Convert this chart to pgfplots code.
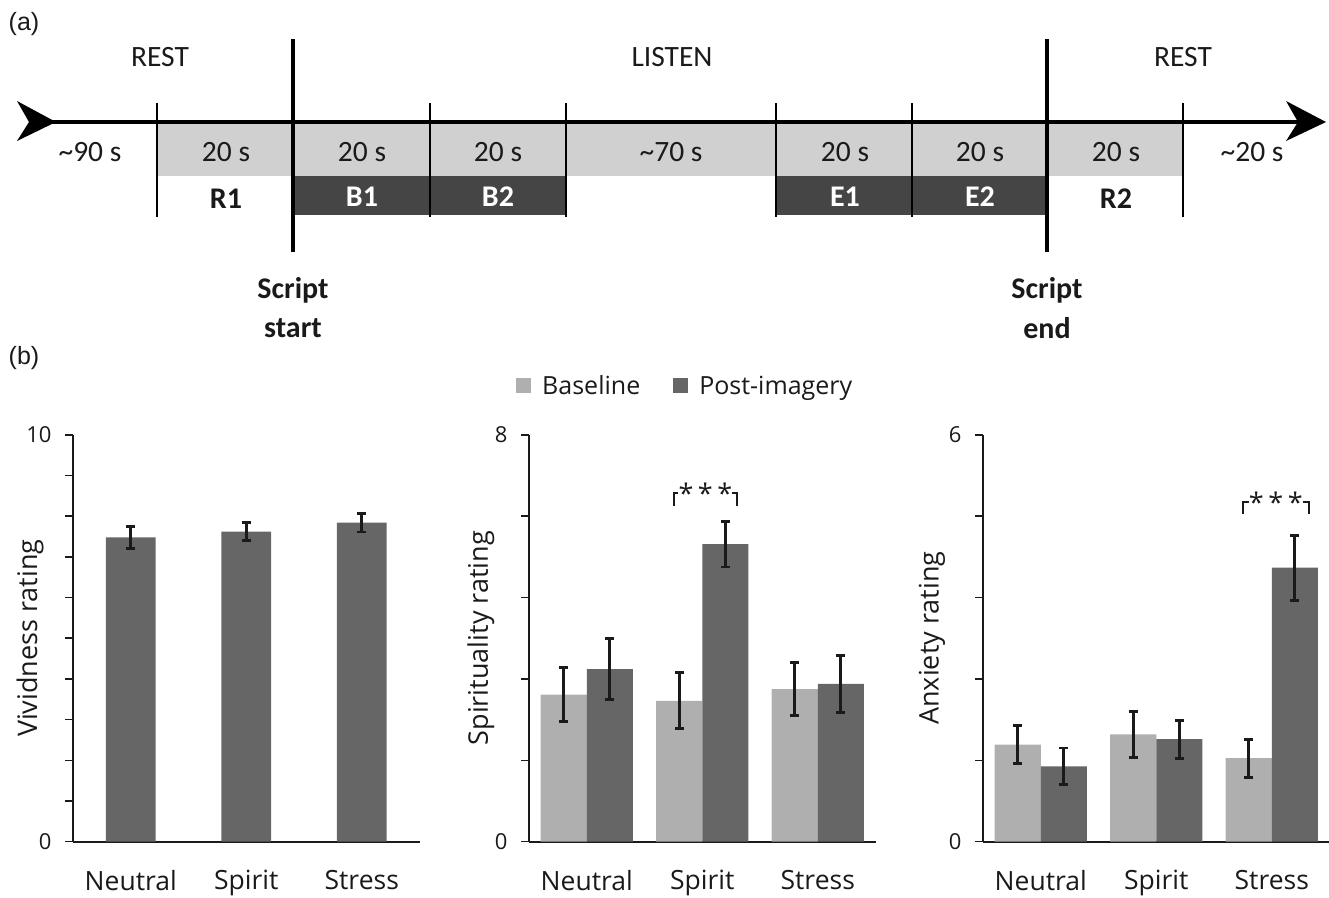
\documentclass[border=0pt]{standalone}
\usepackage{pgfplots}
\usepackage{pgfplotstable}
\pgfplotsset{compat=1.18}
\usepackage{fontspec}
\setmainfont{Open Sans}
\newfontfamily\calfont{Carlito}
\newfontfamily\arialfont{Liberation Sans}
\definecolor{lightbar}{HTML}{AFAFAF}
\definecolor{darkbar}{HTML}{666666}
\definecolor{band}{HTML}{D0D0D0}
\definecolor{boxc}{HTML}{454545}
\definecolor{ink}{HTML}{1A1A1A}

\tikzset{
  signode/.style={fill=white, inner sep=0pt, minimum width=54pt, minimum height=16pt,
    font=\fontsize{27}{30}\selectfont, text=ink},
}

\pgfplotsset{
  ratingaxis/.style={
    scale only axis, width=346.5pt, height=406.8pt,
    xmin=-0.5, xmax=2.5, ymin=0,
    axis x line=bottom, axis y line=left,
    axis line style={-, line width=1.8pt, ink},
    xtick={0,1,2}, xticklabels={Neutral,Spirit,Stress},
    x tick style={draw=none},
    y tick style={line width=1.5pt, ink},
    tick align=outside, major tick length=8pt,
    xticklabel style={font=\fontsize{26.5}{30}\selectfont, yshift=-17pt, text=ink},
    yticklabel style={font=\fontsize{22}{26}\selectfont, xshift=-10pt, text=ink},
    ylabel style={font=\fontsize{27}{32}\selectfont, anchor=center, text=ink},
    clip=false,
    legend image code/.code={\fill[##1] (0pt,-7.5pt) rectangle (15pt,7.5pt); \path (24pt,0pt);},
  },
  errplot/.style={
    forget plot, mark=none, draw=none,
    error bars/.cd, y dir=both, y explicit,
    error bar style={draw=ink, line width=2.8pt, solid},
    error mark=-,
    error mark options={rotate=90, draw=ink, line width=2.8pt, mark size=4.5pt, solid},
    /pgfplots/.cd
  },
}

\pgfplotstableread{
x y e
0 7.48 0.27
1 7.62 0.22
2 7.84 0.23
}\vivid
\pgfplotstableread{
x y e
0 2.89 0.53
1 2.77 0.55
2 3.00 0.52
}\spirbase
\pgfplotstableread{
x y e
0 3.39 0.60
1 5.85 0.45
2 3.10 0.56
}\spirpost
\pgfplotstableread{
x y e
0 1.43 0.28
1 1.58 0.34
2 1.23 0.28
}\anxbase
\pgfplotstableread{
x y e
0 1.11 0.27
1 1.51 0.28
2 4.04 0.48
}\anxpost

\begin{document}
\begin{tikzpicture}
\useasboundingbox (0pt,0pt) rectangle (1329pt,-897pt);

% ---------------- panel (a): timeline ----------------
\begin{axis}[at={(0pt,-340pt)}, anchor=south west, scale only axis,
  width=1329pt, height=340pt, xmin=0, xmax=1329, ymin=-340, ymax=0,
  hide axis, clip=false]
  \fill[band] (axis cs:157,-122) rectangle (axis cs:1183,-176);
  \fill[boxc] (axis cs:293,-176) rectangle (axis cs:566,-215);
  \fill[boxc] (axis cs:776,-176) rectangle (axis cs:1047,-215);
  \draw[line width=4pt] (axis cs:45,-122) -- (axis cs:1300,-122);
  \fill (axis cs:17,-101) -- (axis cs:56,-122) -- (axis cs:17,-141) -- (axis cs:29,-122) -- cycle;
  \fill (axis cs:1286,-101) -- (axis cs:1326,-122) -- (axis cs:1286,-141) -- (axis cs:1298,-122) -- cycle;
  \pgfplotsinvokeforeach{157,430,566,776,912,1183}{
    \draw[line width=2.5pt] (axis cs:#1,-103) -- (axis cs:#1,-217);
  }
  \draw[line width=4pt] (axis cs:293,-39) -- (axis cs:293,-252);
  \draw[line width=4pt] (axis cs:1047,-39) -- (axis cs:1047,-252);
  % labels
  \begin{scope}[every node/.style={font=\calfont\fontsize{29.5}{34}\selectfont, text=ink}]
    \node at (axis cs:160,-57) {REST};
    \node at (axis cs:672,-57) {LISTEN};
    \node at (axis cs:1183,-57) {REST};
    \node at (axis cs:90,-152) {\textasciitilde 90 s};
    \node at (axis cs:226,-152) {20 s};
    \node at (axis cs:362,-152) {20 s};
    \node at (axis cs:498,-152) {20 s};
    \node at (axis cs:671,-152) {\textasciitilde 70 s};
    \node at (axis cs:845,-152) {20 s};
    \node at (axis cs:980,-152) {20 s};
    \node at (axis cs:1116,-152) {20 s};
    \node at (axis cs:1252,-152) {\textasciitilde 20 s};
  \end{scope}
  \begin{scope}[every node/.style={font=\calfont\bfseries\fontsize{30}{35}\selectfont}]
    \node[text=ink] at (axis cs:226,-199) {R1};
    \node[text=white] at (axis cs:362,-197) {B1};
    \node[text=white] at (axis cs:498,-197) {B2};
    \node[text=white] at (axis cs:845,-197) {E1};
    \node[text=white] at (axis cs:980,-197) {E2};
    \node[text=ink] at (axis cs:1116,-199) {R2};
    \node[text=ink] at (axis cs:293,-290) {Script};
    \node[text=ink] at (axis cs:293,-328) {start};
    \node[text=ink] at (axis cs:1047,-290) {Script};
    \node[text=ink] at (axis cs:1047,-328) {end};
  \end{scope}
  \node[font=\arialfont\fontsize{25}{30}\selectfont, text=ink] at (axis cs:24,-24) {(a)};
  \node[font=\arialfont\fontsize{25}{30}\selectfont, text=ink] at (axis cs:24,-358) {(b)};
\end{axis}

% ---------------- panel (b1): vividness ----------------
\begin{axis}[ratingaxis, at={(73pt,-841.6pt)}, anchor=south west,
  ymax=10, ytick={0,1,2,3,4,5,6,7,8,9,10},
  yticklabels={0,{},{},{},{},{},{},{},{},{},10},
  ylabel={Vividness rating},
  ylabel style={at={(axis description cs:-0.124,0.5)}}]
  \addplot[ybar, bar width=0.43, bar shift=0, fill=darkbar, draw=none] table[x=x, y=y] {\vivid};
  \addplot[errplot] table[x=x, y=y, y error=e] {\vivid};
\end{axis}

% ---------------- panel (b2): spirituality ----------------
\begin{axis}[ratingaxis, at={(529pt,-841.6pt)}, anchor=south west,
  ymax=8, ytick={0,1.6,3.2,4.8,6.4,8},
  yticklabels={0,{},{},{},{},8},
  ylabel={Spirituality rating},
  ylabel style={at={(axis description cs:-0.139,0.5)}},
  legend style={draw=none, fill=none, inner sep=0pt, legend columns=2,
    font=\fontsize{25}{30}\selectfont, text=ink,
    at={(axis description cs:-0.0375,1.12)}, anchor=west,
    /tikz/every even column/.append style={column sep=31pt}},
  legend cell align=left]
  \addlegendimage{fill=lightbar, draw=none}
  \addlegendentry{Baseline}
  \addlegendimage{fill=darkbar, draw=none}
  \addlegendentry{Post-imagery}
  \addplot[ybar, bar width=0.4, bar shift=0, fill=lightbar, draw=none, forget plot]
    table[x expr={\thisrow{x}-0.2}, y=y] {\spirbase};
  \addplot[ybar, bar width=0.4, bar shift=0, fill=darkbar, draw=none, forget plot]
    table[x expr={\thisrow{x}+0.2}, y=y] {\spirpost};
  \addplot[errplot] table[x expr={\thisrow{x}-0.2}, y=y, y error=e] {\spirbase};
  \addplot[errplot] table[x expr={\thisrow{x}+0.2}, y=y, y error=e] {\spirpost};
  \draw[line width=2.4pt, ink] (axis cs:0.755,6.60) -- (axis cs:0.755,6.86) -- (axis cs:1.30,6.86) -- (axis cs:1.30,6.60);
  \node[signode] at (axis cs:1.027,6.86) {*\,*\,*};
\end{axis}

% ---------------- panel (b3): anxiety ----------------
\begin{axis}[ratingaxis, at={(983pt,-841.6pt)}, anchor=south west,
  ymax=6, ytick={0,1.2,2.4,3.6,4.8,6},
  yticklabels={0,{},{},{},{},6},
  ylabel={Anxiety rating},
  ylabel style={at={(axis description cs:-0.147,0.5)}}]
  \addplot[ybar, bar width=0.4, bar shift=0, fill=lightbar, draw=none]
    table[x expr={\thisrow{x}-0.2}, y=y] {\anxbase};
  \addplot[ybar, bar width=0.4, bar shift=0, fill=darkbar, draw=none]
    table[x expr={\thisrow{x}+0.2}, y=y] {\anxpost};
  \addplot[errplot] table[x expr={\thisrow{x}-0.2}, y=y, y error=e] {\anxbase};
  \addplot[errplot] table[x expr={\thisrow{x}+0.2}, y=y, y error=e] {\anxpost};
  \draw[line width=2.4pt, ink] (axis cs:1.75,4.83) -- (axis cs:1.75,5.01) -- (axis cs:2.32,5.01) -- (axis cs:2.32,4.83);
  \node[signode] at (axis cs:2.035,5.01) {*\,*\,*};
\end{axis}
\end{tikzpicture}
\end{document}
